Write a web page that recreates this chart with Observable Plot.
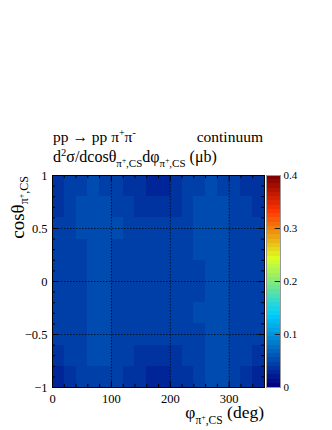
<!DOCTYPE html>
<html><head><meta charset="utf-8">
<script src="https://cdn.jsdelivr.net/npm/d3@7"></script>
<script src="https://cdn.jsdelivr.net/npm/@observablehq/plot@0.6"></script>
<style>
html,body{margin:0;padding:0;background:#fff;}
#wrap{position:relative;width:332px;height:430px;overflow:hidden;background:#fff;}
#wrap > svg{position:absolute;left:0;top:0;}
text{white-space:pre;}
</style></head><body><div id="wrap"></div>
<script>
// phi bin edges (deg) and cos(theta) bin edges
const phiEdges = [0,20,40,60,80,100,120,140,160,180,200,220,240,260,280,300,320,340,360];
const cosEdges = [1,0.8,0.6,0.4,0.2,0,-0.2,-0.4,-0.6,-0.8,-1];
// d2sigma values (microbarn), rows from cos=+1 (top) to cos=-1 (bottom), x1000
const row0 = [34,40,46,50,48,44,39,33,30,30,34,40,46,51,48,42,37,34];
const row1 = [39,44,49,52,50,47,42,38,35,35,39,44,49,52,50,45,41,39];
const row2 = [43,46,49,51,51,49,46,43,40,40,43,46,49,51,51,47,44,43];
const row3 = [45,47,48,50,50,48,47,46,44,44,46,47,49,50,50,48,46,45];
const row4 = [46,47,48,49,49,48,47,47,46,46,47,47,48,49,49,48,47,46];
const row5 = [46,47,48,49,49,47,47,46,46,46,46,47,48,49,49,48,47,46];
const row6 = [45,47,48,50,50,48,47,46,45,45,46,47,49,50,50,48,46,45];
const row7 = [42,45,48,51,51,48,45,43,41,41,43,45,48,51,51,48,44,42];
const row8 = [37,41,46,50,49,45,41,38,35,35,38,42,46,50,51,46,40,37];
const row9 = [31,37,43,47,46,41,37,32,29,29,33,39,44,49,49,43,37,31];
const rows = [row0,row1,row2,row3,row4,row5,row6,row7,row8,row9];
const xTicks = [0,100,200,300];
const yTicks = [-1,-0.5,0,0.5,1];
const zTicks = [0,0.1,0.2,0.3,0.4];

const cells = [];
rows.forEach((r, j) => r.forEach((v, i) => cells.push({
  x1: phiEdges[i], x2: phiEdges[i+1], y1: cosEdges[j+1], y2: cosEdges[j], v: v/1000
})));

// 5-stop rainbow palette, 50 contours over [0, 0.4]
const stops = [0, 0.34, 0.61, 0.84, 1];
const stopColors = ["rgb(0,0,130)","rgb(0,207,255)","rgb(222,255,31)","rgb(255,51,0)","rgb(130,0,0)"];
const palScale = d3.scaleLinear().domain(stops).range(stopColors).interpolate(d3.interpolateRgb);
const nLev = 50, zMax = 0.4;
const thresholds = d3.range(1, nLev).map(i => i*zMax/nLev);
const colors = d3.range(nLev).map(i => palScale(i/(nLev-1)));
const colorScale = {type:"threshold", domain: thresholds, range: colors};
const fmt = d => d < 0 ? "\u2212" + Math.abs(d) : String(d);
const font = '"Liberation Serif", "Times New Roman", serif';

const main = Plot.plot({
  width: 332, height: 430,
  marginLeft: 52, marginRight: 68, marginTop: 175, marginBottom: 43,
  x: {domain: [0,360]}, y: {domain: [-1,1]},
  color: colorScale,
  style: {fontFamily: font, fontSize: "12.5px", color: "black", background: "white"},
  marks: [
    Plot.rect(cells, {x1:"x1", x2:"x2", y1:"y1", y2:"y2", fill:"v", shapeRendering:"crispEdges"}),
    Plot.gridX(xTicks.slice(1), {stroke:"#000", strokeOpacity:0.7, strokeDasharray:"1.5,1.5"}),
    Plot.gridY([-0.5,0,0.5], {stroke:"#000", strokeOpacity:0.7, strokeDasharray:"1.5,1.5"}),
    // major and minor inward ticks on all sides
    Plot.ruleX(d3.range(0,361,20), {y1:-1, y2: d => -1 + (d%100===0 ? 0.055 : 0.03), stroke:"#000"}),
    Plot.ruleX(d3.range(0,361,20), {y1:1, y2: d => 1 - (d%100===0 ? 0.055 : 0.03), stroke:"#000"}),
    Plot.ruleY(d3.range(-1,1.001,0.1), {x1:0, x2: d => (Math.abs(Math.round(d*10))%5===0 ? 9.5 : 5), stroke:"#000"}),
    Plot.ruleY(d3.range(-1,1.001,0.1), {x1:360, x2: d => 360-(Math.abs(Math.round(d*10))%5===0 ? 9.5 : 5), stroke:"#000"}),
    Plot.axisX(xTicks, {anchor:"bottom", tickSize:0, tickPadding:7, tickFormat: fmt, fontSize:12.5}),
    Plot.axisY(yTicks, {anchor:"left", tickSize:0, tickPadding:5, tickFormat: fmt, fontSize:12.5}),
    Plot.frame({stroke:"#000"})
  ]
});
document.getElementById("wrap").appendChild(main);

const levels = d3.range(nLev).map(i => ({lo: i*zMax/nLev, hi: (i+1)*zMax/nLev, mid: (i+0.5)*zMax/nLev}));
const bar = Plot.plot({
  width: 332, height: 430,
  marginLeft: 266, marginRight: 52, marginTop: 175, marginBottom: 43,
  x: {domain: [0,1], axis: null}, y: {domain: [0, zMax], axis: null},
  color: colorScale,
  style: {fontFamily: font, fontSize: "11px", color: "black", background: "none"},
  marks: [
    Plot.rect(levels, {x1:0, x2:1, y1:"lo", y2:"hi", fill:"mid", shapeRendering:"crispEdges"}),
    Plot.ruleY([0.1,0.2,0.3], {x1:0.62, x2:1, stroke:"#222"}),
    Plot.frame({stroke:"#999"}),
    Plot.axisY(zTicks, {anchor:"right", tickSize:0, tickPadding:3, tickFormat: d => String(d), fontSize:11})
  ]
});
document.getElementById("wrap").appendChild(bar);

// titles (text overlay)
const svgNS = "http://www.w3.org/2000/svg";
const ov = document.createElementNS(svgNS, "svg");
ov.setAttribute("width", 332); ov.setAttribute("height", 430);
ov.style.fontFamily = font;
ov.innerHTML = `
<text x="53" y="142" font-size="15.5">pp → pp π<tspan font-size="10" dy="-6">+</tspan><tspan dy="6">π</tspan><tspan font-size="10" dy="-6">-</tspan></text>
<text x="263" y="142" font-size="15.5" text-anchor="end">continuum</text>
<text x="53" y="162" font-size="16">d<tspan font-size="10.5" dy="-6">2</tspan><tspan dy="6">σ/dcosθ</tspan><tspan font-size="11" dy="5">π</tspan><tspan font-size="7.5" dy="-4">+</tspan><tspan font-size="11" dy="4">,CS</tspan><tspan dy="-5">dφ</tspan><tspan font-size="11" dy="5">π</tspan><tspan font-size="7.5" dy="-4">+</tspan><tspan font-size="11" dy="4">,CS</tspan><tspan dy="-5"> (μb)</tspan></text>
<text x="264" y="418" font-size="17.5" text-anchor="end">φ<tspan font-size="11.5" dy="6">π</tspan><tspan font-size="8" dy="-4">+</tspan><tspan font-size="11.5" dy="4">,CS</tspan><tspan dy="-6"> (deg)</tspan></text>
<text transform="translate(24,176) rotate(-90)" font-size="19" text-anchor="end">cosθ<tspan font-size="12" dy="4">π</tspan><tspan font-size="8" dy="-4">+</tspan><tspan font-size="12" dy="4">,CS</tspan></text>
`;
document.getElementById("wrap").appendChild(ov);
</script>
</body></html>
